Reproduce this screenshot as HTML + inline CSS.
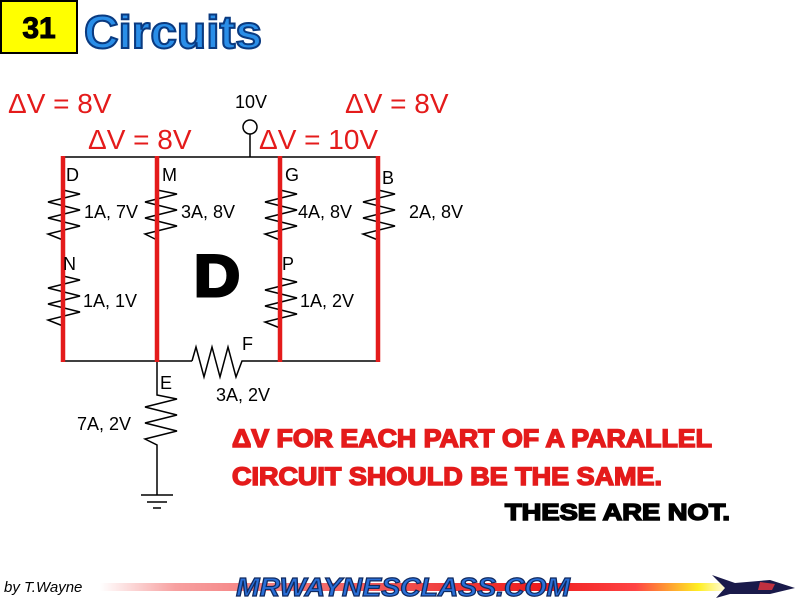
<!DOCTYPE html>
<html><head><meta charset="utf-8"><style>
html,body{margin:0;padding:0;background:#fff;}
svg{display:block;}
</style></head><body>
<svg width="800" height="600" viewBox="0 0 800 600" xmlns="http://www.w3.org/2000/svg" font-family="Liberation Sans, sans-serif">
<defs>
<linearGradient id="bar" x1="0" x2="1" y1="0" y2="0">
<stop offset="0" stop-color="#fff"/>
<stop offset="0.12" stop-color="#f7a0a0"/>
<stop offset="0.7" stop-color="#ee1c1c"/>
<stop offset="0.85" stop-color="#f44"/>
<stop offset="0.95" stop-color="#ffee22"/>
<stop offset="1" stop-color="#fff"/>
</linearGradient>
</defs>
<rect x="1" y="1" width="76" height="52" fill="#ffff00" stroke="#000" stroke-width="2"/>
<text x="39" y="38" font-size="30" font-weight="bold" text-anchor="middle" fill="#000" stroke="#000" stroke-width="1">31</text>
<text x="84" y="48" font-size="46" font-weight="bold" fill="#2a8ee8" stroke="#0a3a80" stroke-width="2" textLength="178" lengthAdjust="spacingAndGlyphs">Circuits</text>

<g fill="#e41b1b" font-size="28">
<text x="8" y="113">ΔV = 8V</text>
<text x="345" y="113">ΔV = 8V</text>
<text x="88" y="149">ΔV = 8V</text>
<text x="259" y="149">ΔV = 10V</text>
</g>
<text x="235" y="108" font-size="18">10V</text>
<circle cx="250" cy="127" r="7" fill="none" stroke="#000" stroke-width="1.5"/>
<line x1="250" y1="134" x2="250" y2="157" stroke="#000" stroke-width="1.5"/>

<g stroke="#000" stroke-width="1.5" fill="none">
<line x1="63" y1="157" x2="378" y2="157"/>
<line x1="63" y1="361" x2="192" y2="361"/>
<polyline points="192,361 196,347 204,377 212,347 220,377 228,347 236,377 242,361 378,361"/>
<polyline points="157,361 157,395 177,399 145,407 177,415 145,423 177,431 145,439 157,445 157,495"/>
<line x1="141" y1="495" x2="173" y2="495"/>
<line x1="147" y1="502" x2="167" y2="502"/>
<line x1="153" y1="508" x2="161" y2="508"/>
<polyline points="63,190 80,194 48,202 80,210 48,218 80,226 48,234 63,240"/>
<polyline points="63,276 80,280 48,288 80,296 48,304 80,312 48,320 63,326"/>
<polyline points="157,190 177,194 145,202 177,210 145,218 177,226 145,234 157,240"/>
<polyline points="280,190 297,194 265,202 297,210 265,218 297,226 265,234 280,240"/>
<polyline points="280,278 297,282 265,290 297,298 265,306 297,314 265,322 280,328"/>
<polyline points="378,190 395,194 363,202 395,210 363,218 395,226 363,234 378,240"/>
</g>
<g stroke="#e41b1b" stroke-width="4.5">
<line x1="63" y1="156" x2="63" y2="362"/>
<line x1="157" y1="156" x2="157" y2="362"/>
<line x1="280" y1="156" x2="280" y2="362"/>
<line x1="378" y1="156" x2="378" y2="362"/>
</g>
<g font-size="18" fill="#000">
<text x="66" y="181">D</text>
<text x="162" y="181">M</text>
<text x="285" y="181">G</text>
<text x="382" y="184">B</text>
<text x="63" y="270">N</text>
<text x="282" y="270">P</text>
<text x="242" y="350">F</text>
<text x="160" y="389">E</text>
<text x="84" y="218">1A, 7V</text>
<text x="181" y="218">3A, 8V</text>
<text x="298" y="218">4A, 8V</text>
<text x="409" y="218">2A, 8V</text>
<text x="83" y="307">1A, 1V</text>
<text x="300" y="307">1A, 2V</text>
<text x="216" y="401">3A, 2V</text>
<text x="77" y="430">7A, 2V</text>
</g>
<text x="194" y="296" font-size="58" font-weight="bold" fill="#000" stroke="#000" stroke-width="3" textLength="46" lengthAdjust="spacingAndGlyphs">D</text>

<g font-weight="bold" font-size="25">
<text x="232" y="447" fill="#e41b1b" stroke="#e41b1b" stroke-width="1.5" textLength="480" lengthAdjust="spacingAndGlyphs">ΔV FOR EACH PART OF A PARALLEL</text>
<text x="232" y="485" fill="#e41b1b" stroke="#e41b1b" stroke-width="1.5" textLength="430" lengthAdjust="spacingAndGlyphs">CIRCUIT SHOULD BE THE SAME.</text>
<text x="505" y="520" fill="#000" stroke="#000" stroke-width="1.5" font-size="23" textLength="225" lengthAdjust="spacingAndGlyphs">THESE ARE NOT.</text>
</g>

<rect x="100" y="583" width="630" height="8" fill="url(#bar)"/>
<text x="4" y="592" font-size="15" font-style="italic" fill="#000">by T.Wayne</text>
<text x="236" y="596" font-size="26" font-weight="bold" font-style="italic" fill="#2a6fd8" stroke="#102a60" stroke-width="1.2" textLength="334" lengthAdjust="spacingAndGlyphs">MRWAYNESCLASS.COM</text>
<polygon points="712,575 735,583 770,580 795,588 770,594 730,594 716,598 725,588" fill="#1a1a4a"/>
<polygon points="760,582 775,584 772,590 758,590" fill="#c03040"/>
</svg>
</body></html>
